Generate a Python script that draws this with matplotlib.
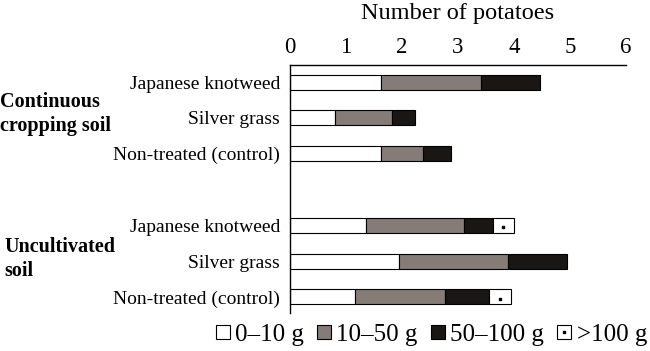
import numpy as np
import matplotlib.pyplot as plt
from matplotlib.lines import Line2D
from matplotlib.legend_handler import HandlerTuple

plt.rcParams['font.family'] = ['Liberation Serif', 'DejaVu Serif']

# Treatments, top to bottom
labels = ['Japanese knotweed', 'Silver grass', 'Non-treated (control)',
          'Japanese knotweed', 'Silver grass', 'Non-treated (control)']
groups = ['Continuous\ncropping soil', 'Uncultivated\nsoil']
rows = [0, 1, 2, 4, 5, 6]

# Number of potatoes per weight class
w0_10 = [1.63, 0.81, 1.63, 1.35, 1.94, 1.16]
w10_50 = [1.79, 1.02, 0.75, 1.76, 1.95, 1.61]
w50_100 = [1.04, 0.41, 0.50, 0.51, 1.05, 0.78]
w100 = [0.0, 0.0, 0.0, 0.38, 0.0, 0.39]

classes = ['0\u201310 g', '10\u201350 g', '50\u2013100 g', '>100 g']
colors = ['white', '#857b77', '#1a1614', 'white']

fig = plt.figure(figsize=(6.5, 3.51), dpi=100)
ax = fig.add_axes([0.446, 0.108, 0.517, 0.707])

left = np.zeros(len(rows))
for vals, col in zip([w0_10, w10_50, w50_100, w100], colors):
    vals = np.array(vals)
    mask = vals > 0
    ax.barh(np.array(rows)[mask], vals[mask], left=left[mask], height=0.42,
            color=col, edgecolor='black', linewidth=0.8)
    left = left + vals

# small dot inside the >100 g segments
w100 = np.array(w100)
m = w100 > 0
start = np.array(w0_10) + np.array(w10_50) + np.array(w50_100)
ax.scatter(start[m] + w100[m] / 2, np.array(rows)[m] + 0.05, s=4, marker='s',
           color='black', zorder=3)

ax.set_xlim(0, 6)
ax.set_ylim(6.45, -0.48)
ax.xaxis.tick_top()
ax.xaxis.set_label_position('top')
ax.set_xticks(range(7))
ax.tick_params(axis='x', length=0, labelsize=16.5, pad=5)
ax.set_xlabel('Number of potatoes', fontsize=17.5, labelpad=13)
ax.set_yticks(rows)
ax.set_yticklabels(labels, fontsize=14)
ax.tick_params(axis='y', length=0, pad=7)
ax.spines['right'].set_visible(False)
ax.spines['bottom'].set_visible(False)
for s in ['top', 'left']:
    ax.spines[s].set_linewidth(1.0)

fig.text(0.0, 0.676, groups[0], fontsize=14.5, fontweight='bold', ha='left', va='center',
         linespacing=1.25)
fig.text(0.007, 0.262, groups[1], fontsize=14.5, fontweight='bold', ha='left', va='center',
         linespacing=1.25)

handles = []
for col in colors[:3]:
    handles.append(Line2D([], [], marker='s', markersize=10, markerfacecolor=col,
                          markeredgecolor='black', markeredgewidth=0.8, linestyle='none'))
sq = Line2D([], [], marker='s', markersize=10, markerfacecolor='white',
            markeredgecolor='black', markeredgewidth=0.8, linestyle='none')
dot = Line2D([], [], marker='s', markersize=2, color='black', linestyle='none')
handles.append((sq, dot))

fig.legend(handles, classes, loc='lower right', bbox_to_anchor=(1.03, -0.05), ncol=4,
           frameon=False, fontsize=18, handlelength=0.6, handletextpad=0.2,
           columnspacing=0.5, handler_map={tuple: HandlerTuple(ndivide=1)})

fig.savefig('out.png', dpi=100)
